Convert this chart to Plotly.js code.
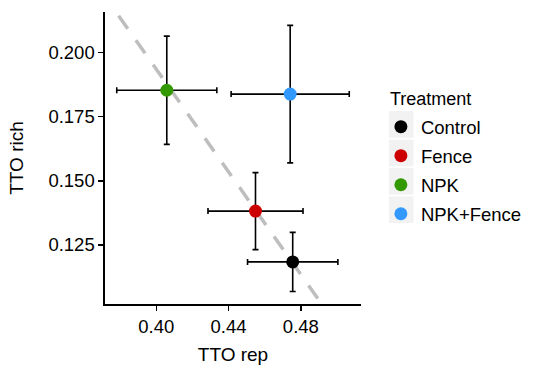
<!DOCTYPE html>
<html>
<head>
<meta charset="utf-8">
<script src="https://cdn.plot.ly/plotly-3.0.1.min.js"></script>
<style>html,body{margin:0;padding:0;background:#fff;}#chart{width:539px;height:370px;}</style>
</head>
<body>
<div id="chart"></div>
<script>
// Data
var treatments = ["Control", "Fence", "NPK", "NPK+Fence"];
var colors = ["#000000", "#CC0000", "#339900", "#3399FF"];
var ttoRep = [0.4755, 0.4549, 0.4058, 0.4741];
var ttoRepErr = [0.0250, 0.0263, 0.0277, 0.0327];
var ttoRich = [0.1184, 0.1382, 0.1853, 0.1838];
var ttoRichErr = [0.0115, 0.0150, 0.0211, 0.0268];
// dashed reference line (y = 0.5935 - x)
var refX = [0.36, 0.52];
var refY = [0.2335, 0.0735];

var xTicks = [0.40, 0.44, 0.48];
var yTicks = [0.125, 0.150, 0.175, 0.200];
var legendTitle = "Treatment";

var FONT = "Liberation Sans, Arial, Helvetica, sans-serif";
var W = 539, H = 370;
var mL = 104.7, mR = 164, mT = 11.7, mB = 65.7;
var pw = W - mL - mR, ph = H - mT - mB;
function px2x(px) { return (px - mL) / pw; }
function py2y(py) { return (H - mB - py) / ph; }

var traces = [{
  x: refX, y: refY, mode: "lines", type: "scatter",
  line: {color: "#BEBEBE", width: 3.5, dash: "16px,14px"},
  showlegend: false, hoverinfo: "skip"
}];
treatments.forEach(function (t, i) {
  traces.push({
    x: [ttoRep[i]], y: [ttoRich[i]], name: t, type: "scatter", mode: "markers",
    legendgroup: t,
    marker: {color: colors[i], size: 13},
    error_x: {type: "data", array: [ttoRepErr[i]], color: "#000", thickness: 1.6, width: 3},
    error_y: {type: "data", array: [ttoRichErr[i]], color: "#000", thickness: 1.6, width: 3}
  });
});

// grey legend key backgrounds
var rowCenters = [124.3, 153.0, 181.3, 209.8];
var shapes = rowCenters.map(function (c) {
  return {type: "rect", xref: "paper", yref: "paper", layer: "below",
    x0: px2x(404.5), x1: px2x(430.5), y0: py2y(c + 13.4), y1: py2y(c - 13.4),
    fillcolor: "#F2F2F2", line: {width: 0}};
});

var layout = {
  width: W, height: H,
  margin: {l: mL, r: mR, t: mT, b: mB, pad: 0},
  paper_bgcolor: "#fff", plot_bgcolor: "#fff",
  font: {family: FONT, color: "#000"},
  showlegend: true,
  xaxis: {
    range: [0.3716, 0.5133], tickvals: xTicks, tickformat: ".2f",
    showgrid: false, zeroline: false, showline: true, linecolor: "#000", linewidth: 1.6,
    ticks: "outside", ticklen: 5, tickwidth: 1.6, tickcolor: "#000",
    tickfont: {size: 18.5, color: "#000", family: FONT},
    title: {text: "TTO rep", font: {size: 19, color: "#000", family: FONT}, standoff: 12},
    automargin: false
  },
  yaxis: {
    range: [0.1020, 0.2158], tickvals: yTicks, tickformat: ".3f",
    showgrid: false, zeroline: false, showline: true, linecolor: "#000", linewidth: 1.6,
    ticks: "outside", ticklen: 5, tickwidth: 1.6, tickcolor: "#000",
    tickfont: {size: 18.5, color: "#000", family: FONT},
    title: {text: "TTO rich", font: {size: 19, color: "#000", family: FONT}, standoff: 20},
    automargin: false
  },
  legend: {
    x: px2x(396), y: py2y(108), xanchor: "left", yanchor: "top",
    traceorder: "grouped", tracegroupgap: 2,
    itemsizing: "trace",
    font: {size: 18.5, family: FONT, color: "#000"},
    bgcolor: "rgba(0,0,0,0)", borderwidth: 0
  },
  annotations: [{
    text: legendTitle, xref: "paper", yref: "paper", showarrow: false,
    x: px2x(403.5), y: py2y(99), xanchor: "left", yanchor: "middle",
    font: {size: 18, family: FONT, color: "#000"}
  }],
  shapes: shapes
};

Plotly.newPlot("chart", traces, layout, {staticPlot: true, displayModeBar: false});
</script>
</body>
</html>
